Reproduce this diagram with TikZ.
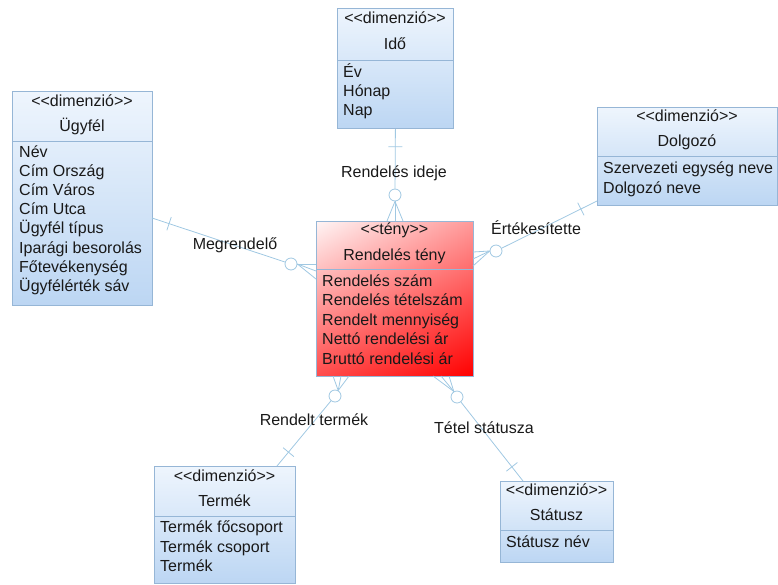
\documentclass[tikz,border=0pt]{standalone}
\usepackage{fontspec}
\setmainfont{Liberation Sans}
\usetikzlibrary{calc,shadings}

\definecolor{boxline}{RGB}{150,182,214}
\definecolor{conncol}{RGB}{160,200,226}
\definecolor{dimtop}{RGB}{238,245,253}
\definecolor{dimbot}{RGB}{188,214,243}
\definecolor{txt}{RGB}{25,25,25}

\newcommand{\stereo}[1]{<{}<#1>{}>}

\tikzset{
  x=1pt, y=-1pt,
  every node/.style={font=\fontsize{16}{18}\selectfont, text=txt},
  dimbox/.style={draw=boxline, line width=0.8pt, top color=dimtop, bottom color=dimbot,
    inner sep=0pt, anchor=north west},
  factbox/.style={draw=boxline, line width=0.8pt, upper left=red!4, upper right=red!40,
    lower left=red!70, lower right=red, inner sep=0pt, anchor=north west},
  sepline/.style={draw=boxline, line width=0.8pt},
  hdr/.style={inner sep=0pt, text height=11pt, text depth=0pt},
  attr/.style={inner sep=0pt, text height=11pt, text depth=0pt, anchor=west},
  lbl/.style={inner sep=0pt, text height=11pt, text depth=0pt},
  conn/.style={draw=conncol, line width=0.8pt},
  ring/.style={circle, draw=conncol, line width=0.8pt, fill=white, minimum size=12pt, inner sep=0pt},
}

\begin{document}
\begin{tikzpicture}
\useasboundingbox (0,0) rectangle (778,584);

% ---------- Idő ----------
\node[dimbox, minimum width=116pt, minimum height=120pt] (ido) at (337,8) {};
\node[hdr] (idoS) at (395,18) {\stereo{dimenzió}};
\node[hdr] (idoT) at (395,44) {Idő};
\draw[sepline] (ido.west |- 0,60) -- (ido.east |- 0,60);
\foreach \t [count=\i] in {Év, Hónap, Nap}
  \node[attr] (idoA\i) at (343,{72+(\i-1)*19}) {\t};

% ---------- Ügyfél ----------
\node[dimbox, minimum width=140pt, minimum height=214pt] (ugy) at (12,91) {};
\node[hdr] (ugyS) at (82,101) {\stereo{dimenzió}};
\node[hdr] (ugyT) at (82,126) {Ügyfél};
\draw[sepline] (ugy.west |- 0,141) -- (ugy.east |- 0,141);
\foreach \t [count=\i] in {Név, Cím Ország, Cím Város, Cím Utca, Ügyfél típus,
    Iparági besorolás, Főtevékenység, Ügyfélérték sáv}
  \node[attr] (ugyA\i) at (19,{152+(\i-1)*19.1}) {\t};

% ---------- Dolgozó ----------
\node[dimbox, minimum width=180pt, minimum height=98pt] (dol) at (597,107) {};
\node[hdr] (dolS) at (687,116) {\stereo{dimenzió}};
\node[hdr] (dolT) at (687,141) {Dolgozó};
\draw[sepline] (dol.west |- 0,156) -- (dol.east |- 0,156);
\foreach \t [count=\i] in {Szervezeti egység neve, Dolgozó neve}
  \node[attr] (dolA\i) at (603,{168+(\i-1)*19.5}) {\t};

% ---------- Rendelés tény ----------
\node[factbox, minimum width=157pt, minimum height=155pt] (fact) at (316,221) {};
\node[hdr] (factS) at (394.5,229) {\stereo{tény}};
\node[hdr] (factT) at (394.5,255) {Rendelés tény};
\draw[sepline] (fact.west |- 0,269) -- (fact.east |- 0,269);
\foreach \t [count=\i] in {Rendelés szám, Rendelés tételszám, Rendelt mennyiség,
    Nettó rendelési ár, Bruttó rendelési ár}
  \node[attr] (factA\i) at (322,{281+(\i-1)*19.4}) {\t};

% ---------- Termék ----------
\node[dimbox, minimum width=141pt, minimum height=117pt] (ter) at (154,466) {};
\node[hdr] (terS) at (224.5,476) {\stereo{dimenzió}};
\node[hdr] (terT) at (224.5,501) {Termék};
\draw[sepline] (ter.west |- 0,516) -- (ter.east |- 0,516);
\foreach \t [count=\i] in {Termék főcsoport, Termék csoport, Termék}
  \node[attr] (terA\i) at (160,{527+(\i-1)*19.5}) {\t};

% ---------- Státusz ----------
\node[dimbox, minimum width=113pt, minimum height=81pt] (sta) at (500,481) {};
\node[hdr] (staS) at (556.5,490) {\stereo{dimenzió}};
\node[hdr] (staT) at (556.5,515) {Státusz};
\draw[sepline] (sta.west |- 0,530) -- (sta.east |- 0,530);
\node[attr] (staA1) at (506,542) {Státusz név};

% ---------- connector end points on the dimension boxes ----------
\coordinate (iA) at (ido.south);
\coordinate (uA) at (152,218);
\coordinate (dA) at (597,201);
\coordinate (tA) at (277,466);
\coordinate (sA) at (523,481);

% ---------- optional-side rings ----------
\node[ring] (cI) at (395,195) {};
\node[ring] (cU) at (291,264) {};
\node[ring] (cD) at (496,251) {};
\node[ring] (cT) at (335,396) {};
\node[ring] (cS) at (457,397) {};

% ---------- main lines with the mandatory-side bar ----------
\foreach \a/\c in {iA/cI, uA/cU, dA/cD, tA/cT, sA/cS}{
  \draw[conn] (\a) -- (\c);
  \coordinate (tk) at ($(\a)!18pt!(\c)$);
  \draw[conn] ($(tk)!7pt!90:(\c)$) -- ($(tk)!7pt!-90:(\c)$);
}

% ---------- crow's feet on the fact box ----------
\coordinate (fI1) at (387,221);  \coordinate (fI2) at (395,221);  \coordinate (fI3) at (403,221);
\coordinate (fU1) at (316,264);  \coordinate (fU2) at (316,271);  \coordinate (fU3) at (316,279);
\coordinate (fD1) at (473,252);  \coordinate (fD2) at (473,259);  \coordinate (fD3) at (473,266);
\coordinate (fT1) at (333,376);  \coordinate (fT2) at (341,376);  \coordinate (fT3) at (349,376);
\coordinate (fS1) at (433,376);  \coordinate (fS2) at (441,376);  \coordinate (fS3) at (449,376);

\foreach \k in {1,2,3}{
  \draw[conn] (cI.south) -- (fI\k);
  \draw[conn] (cU.east) -- (fU\k);
  \draw[conn] (cD.west) -- (fD\k);
  \draw[conn] (cT.60) -- (fT\k);
  \draw[conn] (cS.120) -- (fS\k);
}

% ---------- role labels ----------
\node[lbl] (lI) at (394,172) {Rendelés ideje};
\node[lbl] (lU) at (235,244) {Megrendelő};
\node[lbl] (lD) at (536,229) {Értékesítette};
\node[lbl] (lT) at (314,420) {Rendelt termék};
\node[lbl] (lS) at (484,428) {Tétel státusza};

\end{tikzpicture}
\end{document}
